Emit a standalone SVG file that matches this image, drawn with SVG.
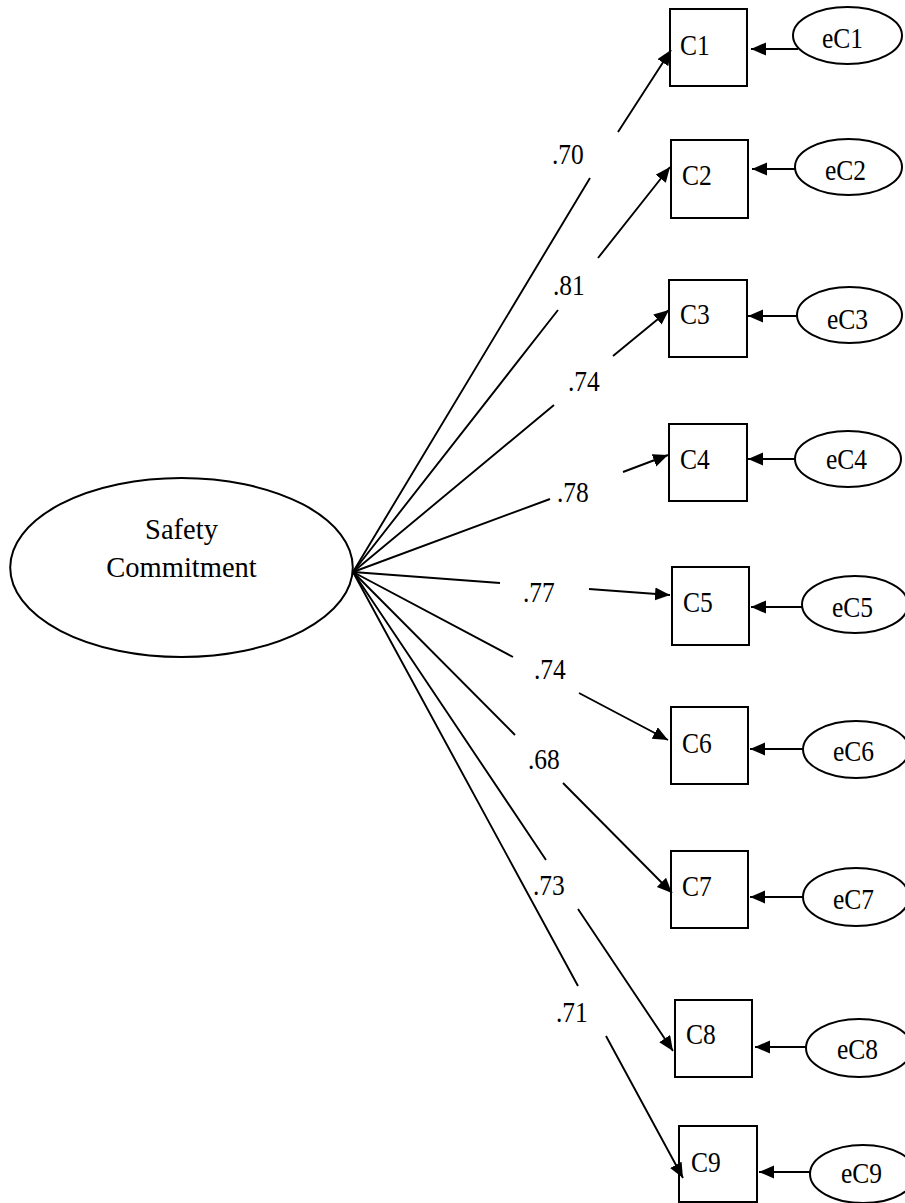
<svg xmlns="http://www.w3.org/2000/svg" width="905" height="1203" viewBox="0 0 905 1203">
  <defs>
    <marker id="arrow" markerUnits="userSpaceOnUse" markerWidth="16" markerHeight="14" refX="15" refY="6.5" orient="auto">
      <path d="M0,0 L15,6.5 L0,13 Z" fill="#000"/>
    </marker>
    <style>
      .shape { fill: #fff; stroke: #000; stroke-width: 2; }
      .link { fill: none; stroke: #000; stroke-width: 1.9; marker-end: url(#arrow); }
      .lbl { font-family: "Liberation Serif", "Times New Roman", serif; font-size: 25.5px; fill: #000; }
      .big { font-family: "Liberation Serif", "Times New Roman", serif; font-size: 28.5px; fill: #000; text-anchor: middle; }
    </style>
  </defs>
  <rect width="905" height="1203" fill="#fff"/>

  <!-- latent factor -->
  <g id="safety-commitment">
    <ellipse class="shape" cx="181.5" cy="567.5" rx="171.3" ry="89.5"/>
    <text class="big" x="181.5" y="539">Safety</text>
    <text class="big" x="181.5" y="577">Commitment</text>
  </g>

  <!-- observed indicators -->
  <g id="C1"><rect class="shape" x="670" y="9" width="77" height="77"/><text class="lbl" transform="translate(680,55) scale(1,1.13)">C1</text></g>
  <g id="C2"><rect class="shape" x="671" y="140" width="77" height="78"/><text class="lbl" transform="translate(682,185) scale(1,1.13)">C2</text></g>
  <g id="C3"><rect class="shape" x="669" y="280" width="78" height="77"/><text class="lbl" transform="translate(680,324) scale(1,1.13)">C3</text></g>
  <g id="C4"><rect class="shape" x="669" y="424" width="78" height="77"/><text class="lbl" transform="translate(680,469) scale(1,1.13)">C4</text></g>
  <g id="C5"><rect class="shape" x="672" y="567" width="77" height="78"/><text class="lbl" transform="translate(683,612) scale(1,1.13)">C5</text></g>
  <g id="C6"><rect class="shape" x="671" y="707" width="77" height="77"/><text class="lbl" transform="translate(682,753) scale(1,1.13)">C6</text></g>
  <g id="C7"><rect class="shape" x="671" y="851" width="77" height="77"/><text class="lbl" transform="translate(682,896) scale(1,1.13)">C7</text></g>
  <g id="C8"><rect class="shape" x="675" y="1000" width="77" height="77"/><text class="lbl" transform="translate(686,1044) scale(1,1.13)">C8</text></g>
  <g id="C9"><rect class="shape" x="679" y="1126" width="78" height="76"/><text class="lbl" transform="translate(691,1172) scale(1,1.13)">C9</text></g>

  <!-- error terms -->
  <g id="eC1"><ellipse class="shape" cx="847.5" cy="35.5" rx="54.5" ry="28.5"/><text class="lbl" transform="translate(822,48) scale(1,1.13)">eC1</text></g>
  <g id="eC2"><ellipse class="shape" cx="848.5" cy="167" rx="53.5" ry="28"/><text class="lbl" transform="translate(825,180) scale(1,1.13)">eC2</text></g>
  <g id="eC3"><ellipse class="shape" cx="849.5" cy="315" rx="52.5" ry="28"/><text class="lbl" transform="translate(827,329) scale(1,1.13)">eC3</text></g>
  <g id="eC4"><ellipse class="shape" cx="848" cy="459" rx="53" ry="28"/><text class="lbl" transform="translate(826,469) scale(1,1.13)">eC4</text></g>
  <g id="eC5"><ellipse class="shape" cx="855" cy="604.5" rx="53" ry="28.5"/><text class="lbl" transform="translate(832,617) scale(1,1.13)">eC5</text></g>
  <g id="eC6"><ellipse class="shape" cx="856" cy="749.5" rx="53" ry="28.5"/><text class="lbl" transform="translate(833,761) scale(1,1.13)">eC6</text></g>
  <g id="eC7"><ellipse class="shape" cx="856" cy="897" rx="53" ry="29"/><text class="lbl" transform="translate(833,909) scale(1,1.13)">eC7</text></g>
  <g id="eC8"><ellipse class="shape" cx="859" cy="1048" rx="53" ry="29"/><text class="lbl" transform="translate(837,1059) scale(1,1.13)">eC8</text></g>
  <g id="eC9"><ellipse class="shape" cx="863" cy="1174" rx="53" ry="29"/><text class="lbl" transform="translate(841,1183) scale(1,1.13)">eC9</text></g>

  <!-- paths: factor loadings (broken around their labels) and error arrows -->
  <g id="connectors">
    <path class="link" d="M353,572 L590,178 M618,132 L671,50"/>
    <path class="link" d="M353,572 L558,310 M598,258 L670,167"/>
    <path class="link" d="M353,572 L554,405 M613,356 L669,310"/>
    <path class="link" d="M353,572 L550,499 M623,472 L668,455"/>
    <path class="link" d="M353,572 L500,583 M589,589 L670,595"/>
    <path class="link" d="M353,572 L513,657 M579,693 L668,740"/>
    <path class="link" d="M353,572 L515,735 M563,783 L672,893"/>
    <path class="link" d="M353,572 L546,860 M578,909 L673,1051"/>
    <path class="link" d="M353,572 L578,986 M606,1036 L683,1178"/>

    <path class="link" d="M798,49 L751,49"/>
    <path class="link" d="M795,169 L752,169"/>
    <path class="link" d="M797,316 L748,316"/>
    <path class="link" d="M796,459 L748,459"/>
    <path class="link" d="M802,607 L751,607"/>
    <path class="link" d="M803,749 L750,749"/>
    <path class="link" d="M803,897 L750,897"/>
    <path class="link" d="M806,1047 L755,1047"/>
    <path class="link" d="M810,1172 L759,1172"/>
  </g>

  <!-- standardized loadings -->
  <g id="loadings">
    <text class="lbl" transform="translate(552,164) scale(1,1.13)">.70</text>
    <text class="lbl" transform="translate(553,295) scale(1,1.13)">.81</text>
    <text class="lbl" transform="translate(568,391) scale(1,1.13)">.74</text>
    <text class="lbl" transform="translate(557,502) scale(1,1.13)">.78</text>
    <text class="lbl" transform="translate(523,602) scale(1,1.13)">.77</text>
    <text class="lbl" transform="translate(534,679) scale(1,1.13)">.74</text>
    <text class="lbl" transform="translate(528,769) scale(1,1.13)">.68</text>
    <text class="lbl" transform="translate(533,895) scale(1,1.13)">.73</text>
    <text class="lbl" transform="translate(556,1022) scale(1,1.13)">.71</text>
  </g>
</svg>
